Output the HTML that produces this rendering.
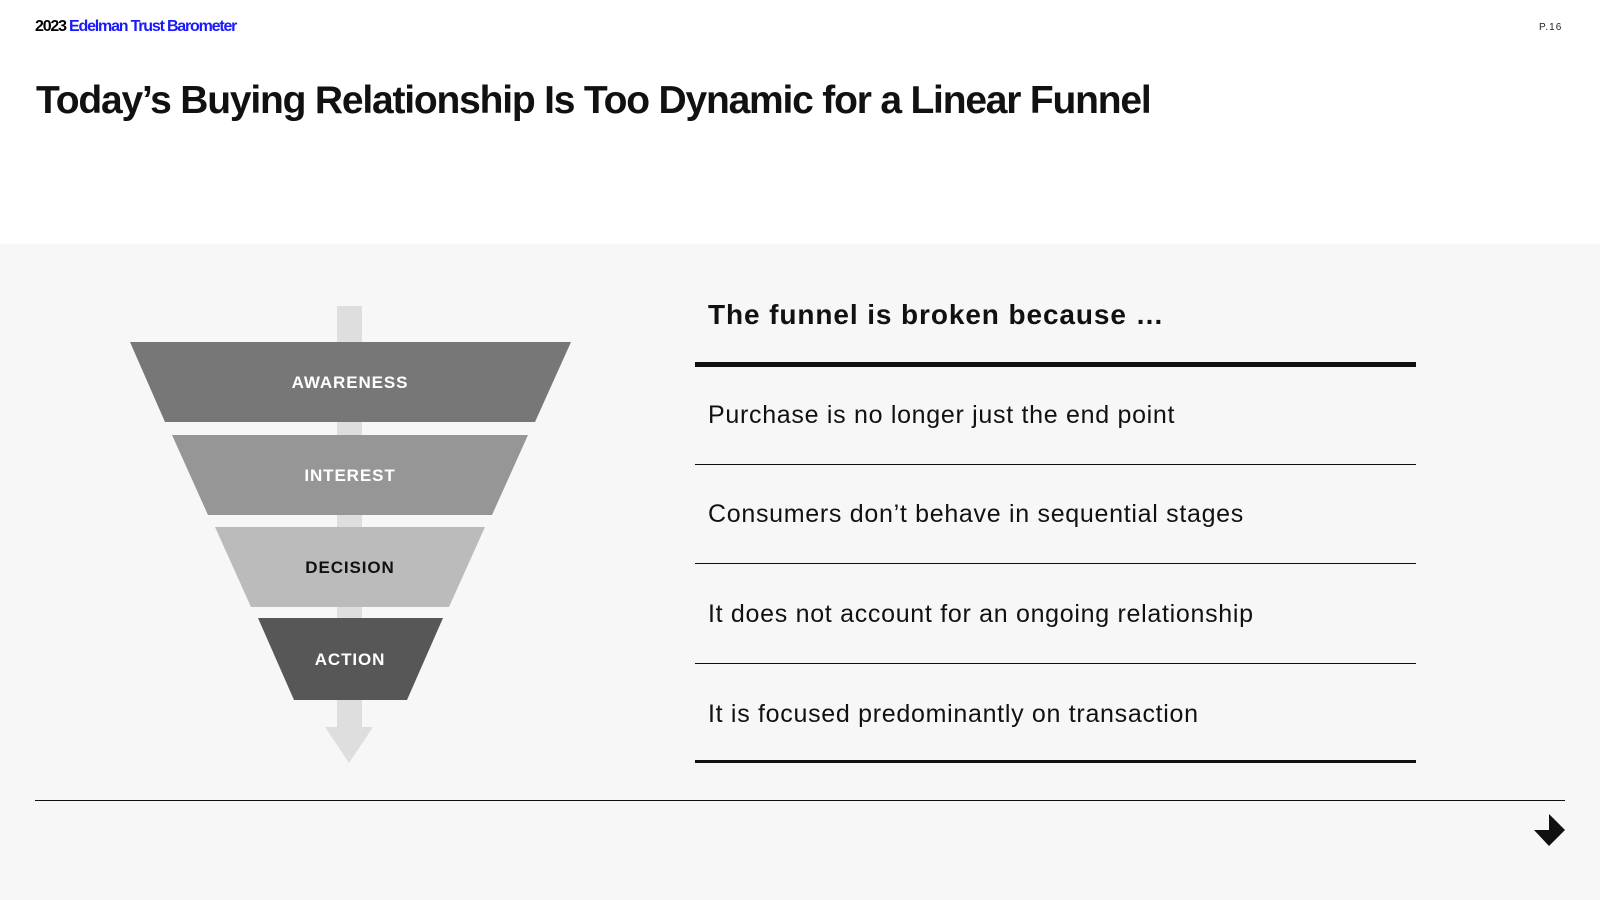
<!DOCTYPE html>
<html><head><meta charset="utf-8"><style>
html,body{margin:0;padding:0}
body{width:1600px;height:900px;position:relative;overflow:hidden;background:#fff;font-family:"Liberation Sans",Arial,sans-serif}
.abs{position:absolute;white-space:nowrap}
.gray{position:absolute;left:0;top:244px;width:1600px;height:656px;background:#f7f7f7}
.item{position:absolute;left:708px;font-size:25px;color:#111;letter-spacing:0.7px;white-space:nowrap}
.hl{position:absolute;left:695px;width:721px;background:#111}
</style></head><body>
<div class="abs" style="left:35px;top:18px;font-size:16px;font-weight:bold;letter-spacing:-1.2px;color:#000">2023 <span style="color:#1a1aff">Edelman Trust Barometer</span></div>
<div class="abs" style="left:1539px;top:22px;font-size:10px;letter-spacing:1px;color:#222">P.16</div>
<div class="abs" style="left:36px;top:79px;font-size:39px;font-weight:bold;letter-spacing:-1.2px;color:#111">Today’s Buying Relationship Is Too Dynamic for a Linear Funnel</div>
<div class="gray"></div>
<svg class="abs" style="left:0;top:0" width="1600" height="900">
<rect x="337" y="306" width="25" height="424" fill="#dedede"/>
<polygon points="325,727 373,727 349,763" fill="#dedede"/>
<polygon points="130,342 571,342 535,422 165,422" fill="#777"/>
<polygon points="172,435 528,435 492,515 208,515" fill="#969696"/>
<polygon points="215,527 485,527 449,607 251,607" fill="#bbb"/>
<polygon points="258,618 443,618 407,700 294,700" fill="#575757"/>
<g font-family="Liberation Sans, Arial, sans-serif" font-weight="bold" font-size="17" letter-spacing="0.9" text-anchor="middle">
<text x="350" y="388" fill="#fff">AWARENESS</text>
<text x="350" y="481" fill="#fff">INTEREST</text>
<text x="350" y="573" fill="#111">DECISION</text>
<text x="350" y="665" fill="#fff">ACTION</text>
</g>
<polygon points="1549,814 1565,830 1549,846 1534,830 1549,830" fill="#111"/>
</svg>
<div class="abs" style="left:708px;top:299px;font-size:28px;font-weight:bold;letter-spacing:0.9px;color:#111">The funnel is broken because …</div>
<div class="hl" style="top:362px;height:5px"></div>
<div class="item" style="top:401px">Purchase is no longer just the end point</div>
<div class="hl" style="top:464px;height:1px"></div>
<div class="item" style="top:500px">Consumers don’t behave in sequential stages</div>
<div class="hl" style="top:563px;height:1px"></div>
<div class="item" style="top:600px">It does not account for an ongoing relationship</div>
<div class="hl" style="top:663px;height:1px"></div>
<div class="item" style="top:700px">It is focused predominantly on transaction</div>
<div class="hl" style="top:760px;height:3px"></div>
<div style="position:absolute;left:35px;top:800px;width:1530px;height:1px;background:#111"></div>
</body></html>
